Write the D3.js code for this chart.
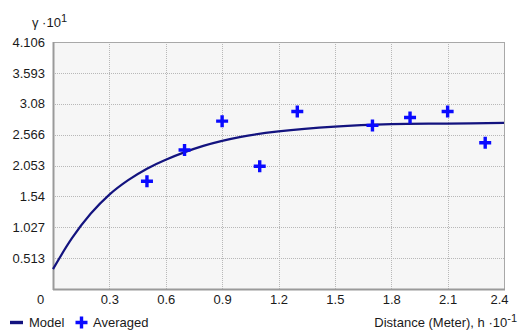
<!DOCTYPE html>
<meta charset="utf-8">
<script src="https://d3js.org/d3.v7.min.js"></script>
<style>
body { margin: 0; background: #fff; }
text { font-family: "Liberation Sans", Arial, sans-serif; font-size: 13px; fill: #1a1a1a; }
.grid line { stroke: #b8b8b8; stroke-dasharray: 1,1; shape-rendering: crispEdges; }
</style>
<div id="chart"></div>
<script>
// averaged (experimental) points
var lagX = [0.5, 0.7, 0.9, 1.1, 1.3, 1.7, 1.9, 2.1, 2.3];
var avgY = [1.79, 2.31, 2.79, 2.04, 2.95, 2.72, 2.85, 2.95, 2.43];

// model curve
var modelX = [0, 0.1, 0.2, 0.3, 0.4, 0.5, 0.6, 0.8, 1.0, 1.2, 1.5, 1.8, 2.1, 2.4];
var modelY = [0.33, 0.84, 1.25, 1.57, 1.81, 2.00, 2.15, 2.38, 2.53, 2.62, 2.70, 2.74, 2.75, 2.76];

var xTicks = [0, 0.3, 0.6, 0.9, 1.2, 1.5, 1.8, 2.1, 2.4];
var yTicks = [0.513, 1.027, 1.54, 2.053, 2.566, 3.08, 3.593, 4.106];

var margin = {top: 42, right: 19, bottom: 45, left: 53},
    width = 523 - margin.left - margin.right,
    height = 334 - margin.top - margin.bottom;

var svg = d3.select("#chart").append("svg")
    .attr("width", 523).attr("height", 334);
var g = svg.append("g")
    .attr("transform", "translate(" + margin.left + "," + margin.top + ")");

var x = d3.scaleLinear().domain([0, 2.4]).range([0, width]);
var y = d3.scaleLinear().domain([0, 4.106]).range([height, 0]);

// plot background
g.append("rect").attr("width", width).attr("height", height).attr("fill", "#f6f6f6");

// grid
g.append("g").attr("class", "grid")
  .selectAll("line").data(xTicks.slice(1, -1)).enter().append("line")
  .attr("x1", d => Math.round(x(d)) + 0.5).attr("x2", d => Math.round(x(d)) + 0.5)
  .attr("y1", 0).attr("y2", height);
g.append("g").attr("class", "grid")
  .selectAll("line").data(yTicks.slice(0, -1)).enter().append("line")
  .attr("y1", d => Math.round(y(d)) + 0.5).attr("y2", d => Math.round(y(d)) + 0.5)
  .attr("x1", 0).attr("x2", width);

// frame
g.append("rect").attr("x", 0.5).attr("y", 0.5).attr("width", width).attr("height", height)
  .attr("fill", "none").attr("stroke", "#a8a8a8").attr("stroke-width", 1);
g.append("line").attr("x1", 0.5).attr("x2", 0.5).attr("y1", 0).attr("y2", height + 1)
  .attr("stroke", "#9a9a9a").attr("stroke-width", 2);
g.append("line").attr("x1", 0).attr("x2", width + 1).attr("y1", height + 0.5).attr("y2", height + 0.5)
  .attr("stroke", "#9a9a9a").attr("stroke-width", 2);

var font = "'Liberation Sans', Arial, sans-serif";

// y axis labels
g.append("g").call(d3.axisLeft(y).tickValues(yTicks).tickSize(0).tickPadding(8)
    .tickFormat(d => String(d)))
  .call(a => a.select(".domain").remove())
  .selectAll("text").style("font-size", "13px").style("font-family", font).attr("fill", "#1a1a1a");

// x axis labels
g.append("g").attr("transform", "translate(0," + height + ")")
  .call(d3.axisBottom(x).tickValues(xTicks).tickSize(0).tickPadding(6)
    .tickFormat(d => String(d)))
  .call(a => a.select(".domain").remove())
  .call(a => a.selectAll("text").style("font-size", "13px")
    .style("font-family", font).attr("fill", "#1a1a1a"))
  .call(a => a.selectAll(".tick").filter(d => d === 0).select("text").attr("dx", -13))
  .call(a => a.selectAll(".tick").filter(d => d === 2.4).select("text").attr("dx", -5));

// model curve
var line = d3.line().x(d => x(d[0])).y(d => y(d[1])).curve(d3.curveCatmullRom.alpha(0.5));
g.append("path").datum(d3.zip(modelX, modelY))
  .attr("d", line).attr("fill", "none").attr("stroke", "#13137f").attr("stroke-width", 2.2);

// averaged crosses
function cross(s) { return "M" + (-s) + ",0H" + s + "M0," + (-s) + "V" + s; }
g.selectAll(".pt").data(d3.zip(lagX, avgY)).enter().append("path")
  .attr("class", "pt")
  .attr("transform", d => "translate(" + x(d[0]) + "," + y(d[1]) + ")")
  .attr("d", cross(6)).attr("stroke", "#0a0aff").attr("stroke-width", 3.4).attr("fill", "none");

// y title
var yt = svg.append("text").attr("x", 32).attr("y", 27);
yt.append("tspan").text("\u03b3 \u00b710");
yt.append("tspan").attr("dy", -5).style("font-size", "11px").text("1");

// x title
var xt = svg.append("text").attr("x", 517).attr("y", 327).attr("text-anchor", "end");
xt.append("tspan").text("Distance (Meter), h \u00b710");
xt.append("tspan").attr("dy", -5).style("font-size", "11px").text("-1");

// legend
svg.append("line").attr("x1", 10).attr("x2", 23).attr("y1", 322.5).attr("y2", 322.5)
  .attr("stroke", "#13137f").attr("stroke-width", 3.4);
svg.append("text").attr("x", 29).attr("y", 327).text("Model");
svg.append("path").attr("transform", "translate(81.5,322.5)").attr("d", cross(6))
  .attr("stroke", "#0a0aff").attr("stroke-width", 3.4).attr("fill", "none");
svg.append("text").attr("x", 93).attr("y", 327).text("Averaged");
</script>
